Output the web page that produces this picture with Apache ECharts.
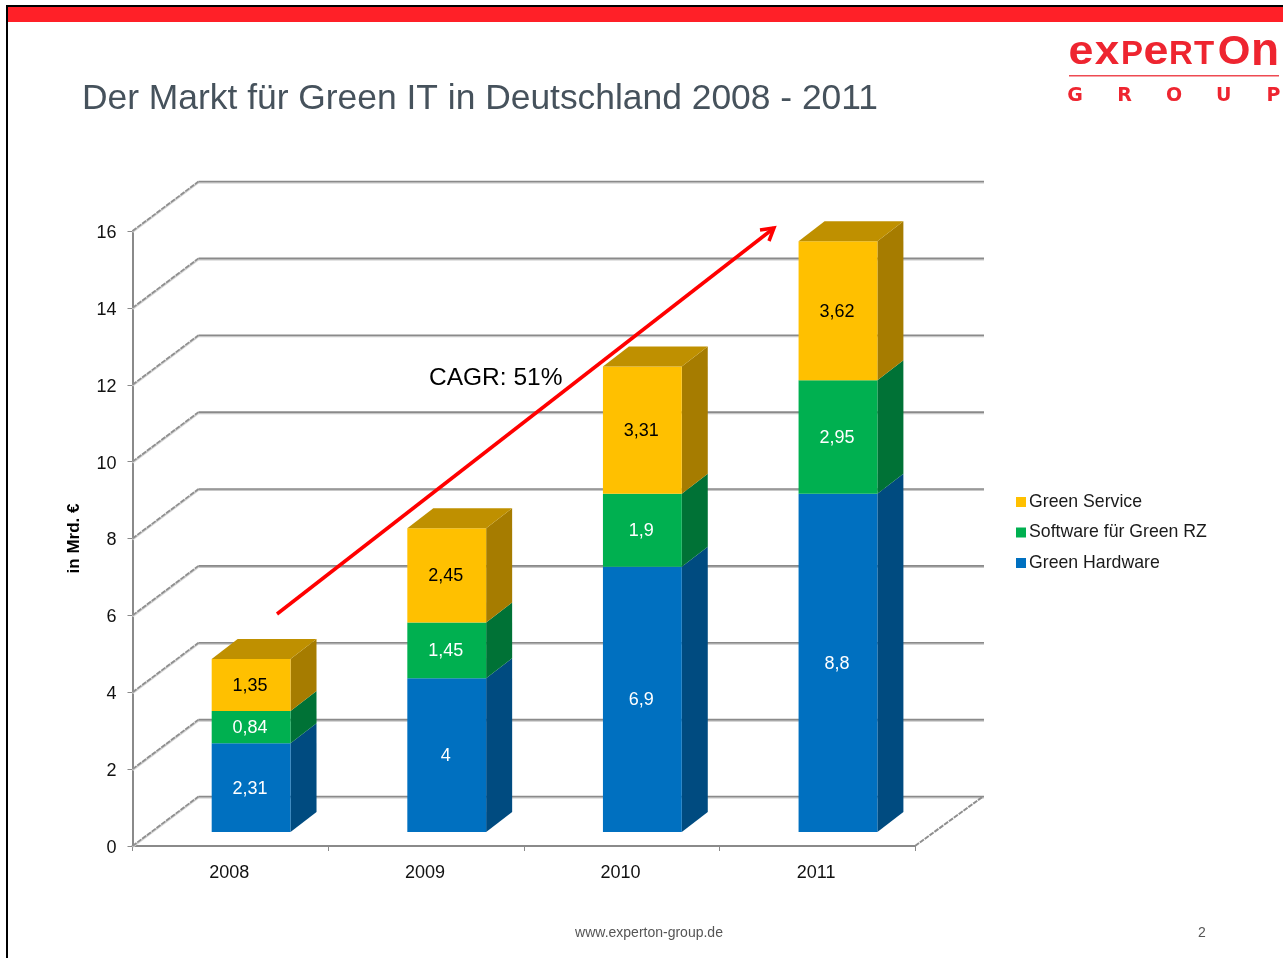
<!DOCTYPE html>
<html>
<head>
<meta charset="utf-8">
<title>Der Markt für Green IT in Deutschland 2008 - 2011</title>
<style>
html, body { margin: 0; padding: 0; background: #fff; }
#chart { width: 1283px; height: 958px; }
</style>
<script src="https://cdn.jsdelivr.net/npm/echarts@6/dist/echarts.min.js"></script>
</head>
<body>
<div id="chart"></div>
<script>
const years = ["2008", "2009", "2010", "2011"];
const greenHardware = [2.31, 4, 6.9, 8.8];
const softwareRZ = [0.84, 1.45, 1.9, 2.95];
const greenService = [1.35, 2.45, 3.31, 3.62];
const yTicks = [0, 2, 4, 6, 8, 10, 12, 14, 16];
const groupLetters = ["G", "R", "O", "U", "P"];

const font = '"Liberation Sans", Arial, sans-serif';
const logoRed = "#ee2530";
const gridColor = "#8a8a8a";
// Tiefe der 3D-Wand und der Balken in Pixel
const wallDx = 66, wallDy = -49.5, wallRight = 69;
const barLift = 14, barShift = 20.8, barDx = 26, barDy = -20;

function stackRows(values, below) {
	return values.map((v, i) => {
		let base = 0;
		below.forEach((b) => (base += b[i]));
		return [i, base, base + v, v];
	});
}

function fmt(v) {
	return String(v).replace(".", ",");
}

function renderWall(params, api) {
	const cs = params.coordSys;
	const y = api.coord([0, api.value(0)])[1];
	const bx = cs.x + wallDx;
	const by = y + wallDy;
	const ex = cs.x + cs.width + wallRight;
	const children = [
		{ type: "line", shape: { x1: bx, y1: by + 1, x2: ex, y2: by + 1 }, style: { stroke: "#c8c8c8", lineWidth: 2 } },
		{ type: "line", shape: { x1: bx, y1: by, x2: ex, y2: by }, style: { stroke: gridColor, lineWidth: 1.6 } },
		{ type: "line", shape: { x1: cs.x, y1: y + 1, x2: bx, y2: by + 1 }, style: { stroke: "#d4d4d4", lineWidth: 2 } },
		{ type: "line", shape: { x1: cs.x, y1: y, x2: bx, y2: by }, style: { stroke: "#8f8f8f", lineWidth: 1.8, lineDash: [5, 1] } },
	];
	if (api.value(0) === 0) {
		children.push({
			type: "line",
			shape: { x1: cs.x + cs.width, y1: y, x2: ex - 1, y2: by },
			style: { stroke: "#8f8f8f", lineWidth: 2, lineDash: [5, 1] },
		});
	}
	return { type: "group", children: children };
}

function makeBarRender(colors, isTop, labelColor) {
	return function (params, api) {
		const size = api.size([1, 0])[0];
		const w = size * 0.403;
		const c0 = api.coord([api.value(0), api.value(1)]);
		const c1 = api.coord([api.value(0), api.value(2)]);
		const x = c0[0] + barShift - w / 2;
		const y0 = c0[1] - barLift;
		const y1 = c1[1] - barLift;
		const children = [
			{
				type: "polygon",
				shape: { points: [[x + w, y0], [x + w + barDx, y0 + barDy], [x + w + barDx, y1 + barDy], [x + w, y1]] },
				style: { fill: colors.side },
			},
			{ type: "rect", shape: { x: x, y: y1, width: w, height: y0 - y1 }, style: { fill: colors.front } },
			{
				type: "text",
				style: {
					text: fmt(api.value(3)),
					x: x + w / 2 - 1,
					y: (y0 + y1) / 2 + 1,
					align: "center",
					verticalAlign: "middle",
					fill: labelColor,
					font: "18px " + font,
				},
			},
		];
		if (isTop) {
			children.push({
				type: "polygon",
				shape: { points: [[x, y1], [x + barDx, y1 + barDy], [x + w + barDx, y1 + barDy], [x + w, y1]] },
				style: { fill: colors.top },
			});
		}
		return { type: "group", children: children };
	};
}

function logoLetter(text, x, y, size, scaleX) {
	return {
		type: "text",
		x: x,
		y: y,
		scaleX: scaleX || 1,
		style: {
			text: text,
			align: "center",
			verticalAlign: "middle",
			fill: logoRed,
			font: "bold " + size + "px " + font,
		},
	};
}

const chart = echarts.init(document.getElementById("chart"), null, { renderer: "canvas" });

const logoWord = [
	logoLetter("e", 1081, 53, 40, 1.12),
	logoLetter("x", 1107, 53, 40, 1.1),
	logoLetter("P", 1132, 55, 33),
	logoLetter("e", 1156, 53, 40, 1.12),
	logoLetter("R", 1181, 55, 33),
	logoLetter("T", 1204, 55, 33),
	logoLetter("O", 1234, 53, 40, 1.05),
	logoLetter("n", 1265, 52, 46, 1.0),
];

const logoGroup = groupLetters.map((t, i) => ({
	type: "text",
	style: {
		text: t,
		x: 1075 + i * 49.6,
		y: 96,
		align: "center",
		verticalAlign: "middle",
		fill: logoRed,
		font: "bold 19px 'DejaVu Sans', sans-serif",
	},
}));

chart.setOption({
	animation: false,
	backgroundColor: "#ffffff",
	title: {
		text: "Der Markt für Green IT in Deutschland 2008 - 2011",
		left: 82,
		top: 82,
		padding: 0,
		textStyle: { color: "#46525c", fontSize: 35.4, fontWeight: "normal", fontFamily: font },
	},
	legend: {
		orient: "vertical",
		left: 1011,
		top: 488,
		icon: "rect",
		itemWidth: 10,
		itemHeight: 10,
		itemGap: 12.5,
		data: ["Green Service", "Software für Green RZ", "Green Hardware"],
		textStyle: { color: "#1a1a1a", fontSize: 17.7, fontFamily: font, padding: [0, 0, 0, -2] },
		selectedMode: false,
	},
	grid: { left: 132.5, top: 231, width: 782.5, height: 615, containLabel: false },
	xAxis: {
		type: "category",
		data: years,
		axisLine: { lineStyle: { color: gridColor, width: 2 } },
		axisTick: { show: true, length: 5, lineStyle: { color: gridColor } },
		axisLabel: { color: "#111", fontSize: 18, fontFamily: font, margin: 18, padding: [0, 2, 0, 0] },
	},
	yAxis: {
		type: "value",
		min: 0,
		max: 16,
		interval: 2,
		name: "in Mrd. €",
		nameLocation: "middle",
		nameGap: 50,
		nameTextStyle: { color: "#000", fontSize: 17, fontWeight: "bold", fontFamily: font },
		axisLine: { show: true, lineStyle: { color: gridColor, width: 2 } },
		axisTick: { show: true, length: 5, lineStyle: { color: gridColor } },
		axisLabel: {
			margin: 16,
			formatter: "{t|{value}}",
			rich: { t: { color: "#111", fontSize: 18, fontFamily: font, padding: [4, 0, 0, 0] } },
		},
		splitLine: { show: false },
	},
	series: [
		{
			name: "wall",
			type: "custom",
			renderItem: renderWall,
			data: yTicks.map((v) => [v]),
			encode: { y: 0 },
			silent: true,
			z: 1,
		},
		{
			name: "Green Hardware",
			type: "custom",
			renderItem: makeBarRender({ front: "#0070c0", side: "#004b80" }, false, "#ffffff"),
			itemStyle: { color: "#0070c0" },
			data: stackRows(greenHardware, []),
			encode: { x: 0, y: 2 },
			z: 3,
		},
		{
			name: "Software für Green RZ",
			type: "custom",
			renderItem: makeBarRender({ front: "#00b050", side: "#007236" }, false, "#ffffff"),
			itemStyle: { color: "#00b050" },
			data: stackRows(softwareRZ, [greenHardware]),
			encode: { x: 0, y: 2 },
			z: 3,
		},
		{
			name: "Green Service",
			type: "custom",
			renderItem: makeBarRender({ front: "#ffc000", side: "#a67c00", top: "#bf9000" }, true, "#000000"),
			itemStyle: { color: "#ffc000" },
			data: stackRows(greenService, [greenHardware, softwareRZ]),
			encode: { x: 0, y: 2 },
			z: 3,
		},
	],
	graphic: [
		// Folienrahmen
		{ type: "rect", shape: { x: 6, y: 5, width: 1277, height: 2 }, style: { fill: "#000" }, z: 10 },
		{ type: "rect", shape: { x: 6, y: 5, width: 2, height: 953 }, style: { fill: "#000" }, z: 10 },
		{ type: "rect", shape: { x: 8, y: 7, width: 1275, height: 15 }, style: { fill: "#ff2028" }, z: 10 },
		// Logo
		{ type: "group", z: 10, children: logoWord },
		{ type: "rect", shape: { x: 1069, y: 75, width: 210, height: 1.5 }, style: { fill: "#ee4a52" }, z: 10 },
		{ type: "group", z: 10, children: logoGroup },
		// CAGR-Pfeil
		{
			type: "text",
			z: 20,
			style: { text: "CAGR: 51%", x: 429, y: 378, verticalAlign: "middle", fill: "#000", font: "24.5px " + font },
		},
		{ type: "line", z: 20, shape: { x1: 277, y1: 614, x2: 774, y2: 228 }, style: { stroke: "#ff0000", lineWidth: 3.5 } },
		{
			type: "polyline",
			z: 20,
			shape: { points: [[760, 230], [774, 228], [769, 241]] },
			style: { fill: "none", stroke: "#ff0000", lineWidth: 3.5 },
		},
		// Fusszeile
		{
			type: "text",
			z: 10,
			style: { text: "www.experton-group.de", x: 649, y: 933, align: "center", verticalAlign: "middle", fill: "#555", font: "14px " + font },
		},
		{
			type: "text",
			z: 10,
			style: { text: "2", x: 1202, y: 933, align: "center", verticalAlign: "middle", fill: "#555", font: "14px " + font },
		},
	],
});
</script>
</body>
</html>
